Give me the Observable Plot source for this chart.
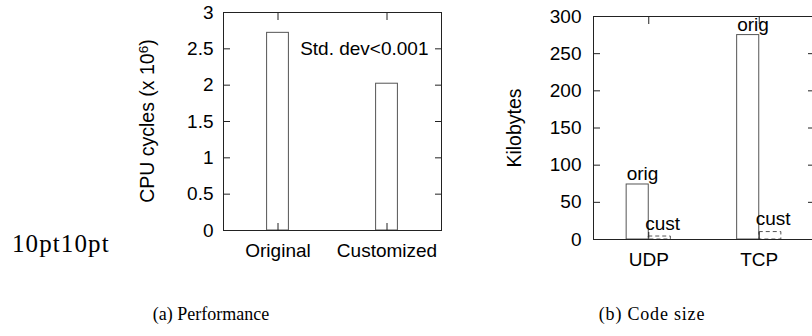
<!DOCTYPE html>
<html>
<head>
<meta charset="utf-8">
<script src="https://cdn.jsdelivr.net/npm/d3@7"></script>
<script src="https://cdn.jsdelivr.net/npm/@observablehq/plot@0.6"></script>
<style>
html, body { margin: 0; padding: 0; width: 812px; height: 336px; overflow: hidden; background: #fff; }
body { position: relative; }
.panel { position: absolute; top: 0; }
.ylab { position: absolute; transform: translate(-50%, -50%) rotate(-90deg); white-space: nowrap;
        font-family: "Liberation Sans", Arial, sans-serif; font-size: 19.5px; line-height: 1; color: #000; }
.ylab .sup { font-size: 0.7em; position: relative; top: -0.45em; }
.serif { position: absolute; white-space: nowrap; font-family: "Liberation Serif", "Times New Roman", serif; color: #000; line-height: 1; }
</style>
</head>
<body>
<div id="pa" class="panel" style="left:0px;width:470px;"></div>
<div id="pb" class="panel" style="left:470px;width:360px;"></div>
<div class="ylab" style="left:147.5px;top:121px;">CPU cycles (x 10<span class="sup">6</span>)</div>
<div class="ylab" style="left:514.5px;top:127.5px;">Kilobytes</div>
<div class="serif" style="left:12px;top:231px;font-size:25px;letter-spacing:1.1px;">10pt10pt</div>
<div class="serif" id="capA" style="top:305px;font-size:18px;">(a) Performance</div>
<div class="serif" id="capB" style="top:305px;font-size:18px;letter-spacing:0.8px;">(b) Code size</div>
<script>
// ---------- data ----------
const perfCategories = ["Original", "Customized"];
const perfValues = [2.72, 2.02];
const perfTicks = [0, 0.5, 1, 1.5, 2, 2.5, 3];
const perfNotes = ["Std. dev<0.001"];
const perfNoteY = [2.5];

const sizeGroups = ["UDP", "TCP"];
const sizeSeries = ["orig", "cust"];
const sizeOrig = [74, 275];
const sizeCust = [4, 10];
const sizeTicks = [0, 50, 100, 150, 200, 250, 300];

// ---------- styling ----------
const FRAME = "#222";
const BAR = "#555";
const fmt = d => String(d);
const svgStyle = {
  fontFamily: "Liberation Sans, Arial, sans-serif",
  fontSize: "19px",
  color: "#000",
  background: "transparent",
  overflow: "visible",
  maxWidth: "none"
};

// ---------- panel (a) ----------
const perfData = perfCategories.map((c, i) => ({i, c, v: perfValues[i]}));
const notes = perfNotes.map((t, k) => ({t, y: perfNoteY[k]}));
const plotA = Plot.plot({
  width: 470, height: 280,
  marginLeft: 223, marginRight: 29, marginTop: 12, marginBottom: 50,
  style: svgStyle,
  x: {domain: [-0.5, 1.5]},
  y: {domain: [0, 3]},
  marks: [
    Plot.rect(perfData, {x1: d => d.i - 0.1, x2: d => d.i + 0.1, y1: 0, y2: "v", fill: "white", stroke: BAR}),
    Plot.axisY({ticks: perfTicks, anchor: "left", tickSize: -7, tickFormat: () => "", label: null, stroke: FRAME}),
    Plot.axisY({ticks: perfTicks, anchor: "right", tickSize: -7, tickFormat: () => "", label: null, stroke: FRAME}),
    Plot.axisY({ticks: perfTicks, anchor: "left", tickSize: 0, tickPadding: 10, tickFormat: fmt, label: null, fill: "#000"}),
    Plot.axisX({ticks: perfData.map(d => d.i), anchor: "bottom", tickSize: -7, tickFormat: () => "", label: null, stroke: FRAME}),
    Plot.axisX({ticks: perfData.map(d => d.i), anchor: "top", tickSize: -7, tickFormat: () => "", label: null, stroke: FRAME}),
    Plot.axisX({ticks: perfData.map(d => d.i), anchor: "bottom", tickSize: 0, tickPadding: 13, tickFormat: i => perfCategories[i], label: null, fill: "#000"}),
    Plot.text(notes, {y: "y", text: "t", frameAnchor: "right", textAnchor: "end", lineAnchor: "middle", dx: -13, fill: "#000"}),
    Plot.frame({stroke: FRAME})
  ]
});
document.getElementById("pa").appendChild(plotA);

// ---------- panel (b) ----------
const origData = sizeGroups.map((g, i) => ({g: i, s: sizeSeries[0], v: sizeOrig[i]}));
const custData = sizeGroups.map((g, i) => ({g: i, s: sizeSeries[1], v: sizeCust[i]}));
const plotB = Plot.plot({
  width: 360, height: 280,
  marginLeft: 123, marginRight: 16, marginTop: 16, marginBottom: 41,
  style: svgStyle,
  x: {domain: [-0.5, 1.5]},
  y: {domain: [0, 300]},
  marks: [
    Plot.rect(origData, {x1: d => d.g - 0.2, x2: d => d.g, y1: 0, y2: "v", fill: "white", stroke: BAR}),
    Plot.rect(custData, {x1: d => d.g, x2: d => d.g + 0.2, y1: 0, y2: "v", fill: "white", stroke: BAR, strokeDasharray: "4,3"}),
    Plot.text(origData, {x: d => d.g - 0.2, y: "v", text: "s", textAnchor: "start", lineAnchor: "bottom", dy: -4, fill: "#000"}),
    Plot.text(custData, {x: d => d.g, y: "v", text: "s", textAnchor: "start", lineAnchor: "bottom", dx: -3.5, dy: -7, fill: "#000"}),
    Plot.axisY({ticks: sizeTicks, anchor: "left", tickSize: -7, tickFormat: () => "", label: null, stroke: FRAME}),
    Plot.axisY({ticks: sizeTicks, anchor: "right", tickSize: -7, tickFormat: () => "", label: null, stroke: FRAME}),
    Plot.axisY({ticks: sizeTicks, anchor: "left", tickSize: 0, tickPadding: 12, tickFormat: fmt, label: null, fill: "#000"}),
    Plot.axisX({ticks: origData.map(d => d.g), anchor: "bottom", tickSize: -7, tickFormat: () => "", label: null, stroke: FRAME}),
    Plot.axisX({ticks: origData.map(d => d.g), anchor: "top", tickSize: -7, tickFormat: () => "", label: null, stroke: FRAME}),
    Plot.axisX({ticks: origData.map(d => d.g), anchor: "bottom", tickSize: 0, tickPadding: 13, tickFormat: i => sizeGroups[i], label: null, fill: "#000"}),
    Plot.frame({stroke: FRAME})
  ]
});
document.getElementById("pb").appendChild(plotB);

// center captions under panels
function center(id, cx) {
  const el = document.getElementById(id);
  el.style.left = (cx - el.getBoundingClientRect().width / 2) + "px";
}
center("capA", 211);
center("capB", 652);
</script>
</body>
</html>
